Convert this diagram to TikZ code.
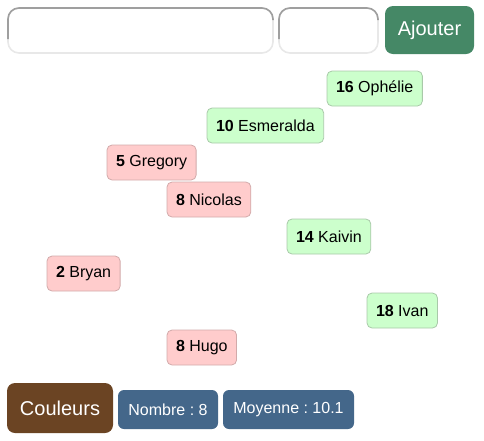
\documentclass[tikz,border=0pt]{standalone}
\usepackage{fontspec}
\setmainfont{Liberation Sans}
\usepackage{xcolor}
\usepackage{tikz}
\frenchspacing
\definecolor{vertbouton}{HTML}{458866}
\definecolor{brun}{HTML}{6B4423}
\definecolor{bleu}{HTML}{44678A}
\definecolor{recu}{HTML}{CCFFCC}
\definecolor{recubord}{HTML}{A9C9A9}
\definecolor{echec}{HTML}{FFCCCC}
\definecolor{echecbord}{HTML}{D2AAAA}

\begin{document}
\begin{tikzpicture}[x=1pt,y=-1pt,font=\fontsize{16}{19}\selectfont]
    \tikzstyle{champ}=[draw=gray!18, line width=1.6pt, rounded corners=11pt, outer sep=0pt, minimum height=45pt, anchor=north west]
    \tikzstyle{bouton}=[text=white, rounded corners=8pt, outer sep=0pt, anchor=north west, font=\fontsize{20}{24}\selectfont]
    \tikzstyle{stat}=[fill=bleu, text=white, rounded corners=6pt, minimum height=39pt, inner xsep=10pt, outer sep=0pt, anchor=north west]
    \tikzstyle{eleve}=[rounded corners=5pt, minimum height=35pt, inner xsep=9pt, line width=0.8pt, outer sep=0pt, anchor=north west]
    \tikzstyle{ok}=[eleve, fill=recu, draw=recubord]
    \tikzstyle{ko}=[eleve, fill=echec, draw=echecbord]

    \useasboundingbox (0,0) rectangle (484,440);

    % saisie
    \node[champ, minimum width=265pt] (nom) at (8,8) {};
    \node[champ, minimum width=99pt] (note) at (279,8) {};
    \draw[gray!75, line width=1.6pt, rounded corners=11pt] ([yshift=14pt]nom.south west) -- (nom.north west) -- (nom.north east) -- ([yshift=-12pt]nom.north east);
    \draw[gray!75, line width=1.6pt, rounded corners=11pt] ([yshift=14pt]note.south west) -- (note.north west) -- (note.north east) -- ([yshift=-12pt]note.north east);
    \node[bouton, fill=vertbouton, minimum width=89pt, minimum height=48pt] (ajouter) at (385,6) {Ajouter};

    % eleves
    \node[ok] (ophelie) at (327,71) {\textbf{16} Ophélie};
    \node[ok] (esmeralda) at (207,108) {\textbf{10} Esmeralda};
    \node[ko] (gregory) at (107,145) {\textbf{5} Gregory};
    \node[ko] (nicolas) at (167,182) {\textbf{8} Nicolas};
    \node[ok] (kaivin) at (287,219) {\textbf{14} Kaivin};
    \node[ko] (bryan) at (47,256) {\textbf{2} Bryan};
    \node[ok] (ivan) at (367,293) {\textbf{18} Ivan};
    \node[ko] (hugo) at (167,330) {\textbf{8} Hugo};

    % bas
    \node[bouton, fill=brun, minimum width=106pt, minimum height=50pt] (couleurs) at (7,383) {Couleurs};
    \node[stat, minimum width=100pt] (nombre) at (118,390) {Nombre : 8};
    \node[stat, minimum width=131pt] (moyenne) at (223,390) {Moyenne : 10.1};
\end{tikzpicture}
\end{document}
